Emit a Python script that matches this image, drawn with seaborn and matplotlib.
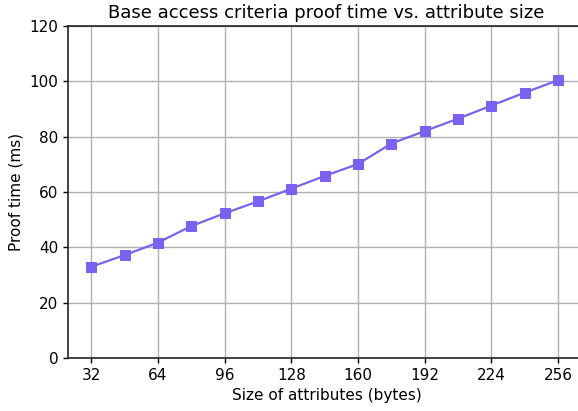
import matplotlib
matplotlib.use("Agg")
import matplotlib.pyplot as plt
import seaborn as sns
import pandas as pd

sizes = [32, 48, 64, 80, 96, 112, 128, 144, 160, 176, 192, 208, 224, 240, 256]
proof_ms = [33.0, 37.2, 41.7, 47.7, 52.3, 56.6, 61.2, 65.8, 70.1, 77.5, 82.0, 86.5, 91.2, 95.9, 100.4]
x_ticks = [32, 64, 96, 128, 160, 192, 224, 256]
y_ticks = [0, 20, 40, 60, 80, 100, 120]

df = pd.DataFrame({"size": sizes, "time": proof_ms})

sns.set_style("whitegrid", {"text.color": "black", "axes.labelcolor": "black",
                            "xtick.color": "black", "ytick.color": "black"})
plt.rcParams['font.family'] = ['DejaVu Sans']

fig = plt.figure(figsize=(5.78, 4.11), dpi=100)
ax = fig.add_axes([68/578, 53/411, 517/578, 332/411])
sns.lineplot(data=df, x="size", y="time", ax=ax, color="#7B61F0", marker="s",
             markersize=7, linewidth=1.6, markeredgecolor="#7B61F0")
ax.set_xticks(x_ticks)
ax.set_yticks(y_ticks)
ax.set_ylim(0, 120)
ax.set_xlim(20.8, 269.0)
ax.grid(True, color="#b0b0b0", linewidth=1)
for name, s in ax.spines.items():
    s.set_visible(name != "right")
    s.set_color("#222222")
    s.set_linewidth(1.2)
ax.tick_params(axis="both", which="both", length=3.5, width=1, color="black",
               labelcolor="black", labelsize=11, bottom=True, left=True)
ax.set_xlabel("Size of attributes (bytes)", fontsize=11, color="black")
ax.set_ylabel("Proof time (ms)", fontsize=11, color="black")
ax.set_title("Base access criteria proof time vs. attribute size", fontsize=13, color="black")
fig.savefig("out.png", dpi=100)
